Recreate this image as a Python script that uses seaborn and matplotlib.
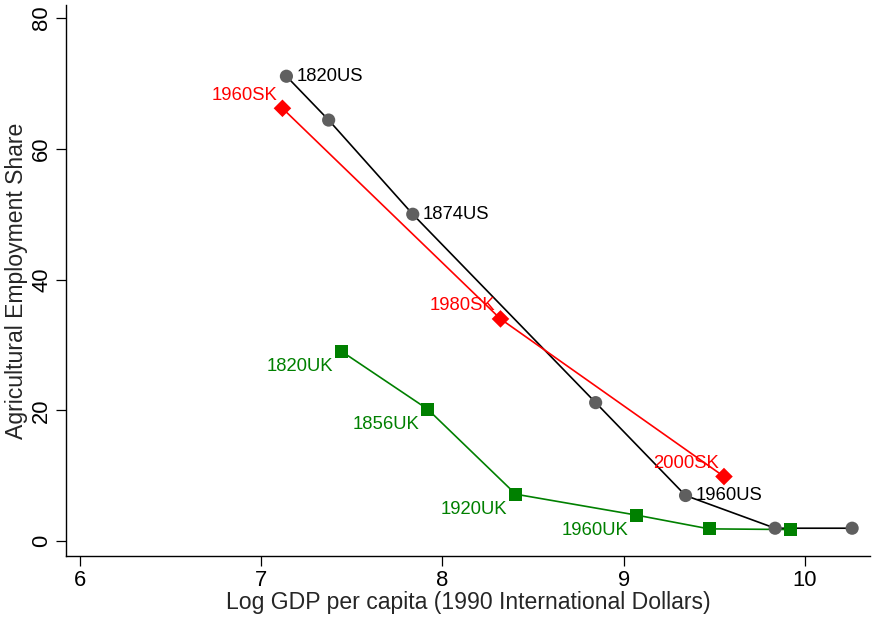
import matplotlib
matplotlib.use("Agg")
import matplotlib.pyplot as plt
import seaborn as sns
import pandas as pd

# Log GDP per capita and agricultural employment share by country
us_gdp = [7.139, 7.372, 7.836, 8.845, 9.341, 9.835, 10.26]
us_share = [71.1, 64.4, 50.0, 21.2, 7.0, 2.0, 2.0]
us_labels = ["1820US", "", "1874US", "", "1960US", "", ""]

sk_gdp = [7.117, 8.32, 9.553]
sk_share = [66.2, 34.0, 9.9]
sk_labels = ["1960SK", "1980SK", "2000SK"]

uk_gdp = [7.445, 7.918, 8.404, 9.071, 9.471, 9.918]
uk_share = [29.0, 20.2, 7.2, 4.0, 1.9, 1.8]
uk_labels = ["1820UK", "1856UK", "1920UK", "1960UK", "", ""]

x_ticks = [6, 7, 8, 9, 10]
y_ticks = [0, 20, 40, 60, 80]

frames = []
for name, g, s, lab in [("US", us_gdp, us_share, us_labels),
                        ("SK", sk_gdp, sk_share, sk_labels),
                        ("UK", uk_gdp, uk_share, uk_labels)]:
    frames.append(pd.DataFrame({"country": name, "gdp": g, "share": s, "label": lab}))
df = pd.concat(frames, ignore_index=True)

sns.set_theme(style="ticks")
plt.rcParams["font.family"] = ["Liberation Sans", "DejaVu Sans"]

fig = plt.figure(figsize=(8.72, 6.18), dpi=100)
ax = fig.add_axes([0.0757, 0.1003, 0.9223, 0.8917])

line_colors = {"US": "#000000", "SK": "#ff0000", "UK": "#008000"}
marker_colors = {"US": "#5f5f5f", "SK": "#ff0000", "UK": "#008000"}
markers = {"US": "o", "SK": "D", "UK": "s"}
sizes = {"US": 90, "SK": 80, "UK": 85}

for name in ["US", "SK", "UK"]:
    sub = df[df["country"] == name]
    sns.lineplot(data=sub, x="gdp", y="share", sort=False, color=line_colors[name],
                 linewidth=1.2, ax=ax, zorder=2)
for name in ["US", "SK", "UK"]:
    sub = df[df["country"] == name]
    sns.scatterplot(data=sub, x="gdp", y="share", marker=markers[name],
                    color=marker_colors[name], s=sizes[name], edgecolor="none",
                    ax=ax, zorder=3)

# point labels: US to the right, SK upper-left, UK lower-left
placement = {
    "US": ((7, 0), "left", "center"),
    "SK": ((-4, 9.5), "right", "center"),
    "UK": ((-6, -11), "right", "center"),
}
for _, row in df.iterrows():
    if not row["label"]:
        continue
    offset, ha, va = placement[row["country"]]
    ax.annotate(row["label"], (row["gdp"], row["share"]), xytext=offset,
                textcoords="offset points", ha=ha, va=va, fontsize=13.3,
                color=line_colors[row["country"]])

ax.set_xlim(5.923, 10.36)
ax.set_ylim(-2.25, 82)
ax.set_xticks(x_ticks)
ax.set_yticks(y_ticks)
ax.set_yticklabels([str(v) for v in y_ticks], rotation=90, va="center")
ax.tick_params(axis="both", labelsize=15.8, length=7, width=0.9, color="black",
               labelcolor="black", pad=3)
ax.set_xlabel("Log GDP per capita (1990 International Dollars)", fontsize=16.6, labelpad=0)
ax.set_ylabel("Agricultural Employment Share", fontsize=16.6, labelpad=2)

sns.despine(ax=ax)
for sp in ["left", "bottom"]:
    ax.spines[sp].set_color("black")
    ax.spines[sp].set_linewidth(1.0)

fig.savefig("out.png", dpi=100)
